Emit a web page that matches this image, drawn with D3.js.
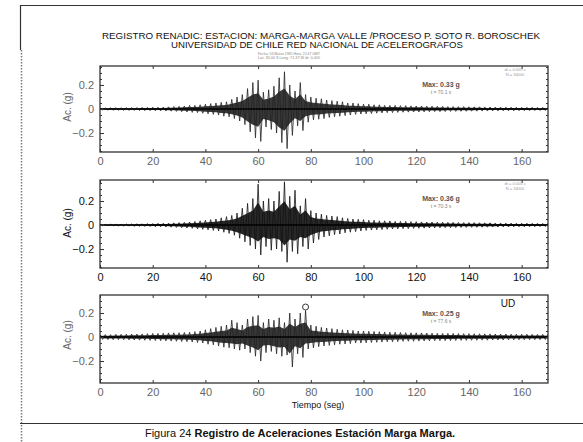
<!DOCTYPE html>
<html><head><meta charset="utf-8">
<script src="https://cdn.jsdelivr.net/npm/d3@7"></script>
<style>
body{margin:0;background:#fff}
svg{display:block}
text{font-family:"Liberation Sans",Arial,sans-serif}
</style>
</head><body>
<svg id="c" width="583" height="442"></svg>
<script>
// ---------- DATA (acceleration peaks in g, per 2-second bin starting at t=0) ----------
const binWidth = 2;
const timeBins = d3.range(0, 171, binWidth);

const nsUp = [0.008,0.008,0.01,0.01,0.01,0.012,0.012,0.012,0.014,0.014,
  0.015,0.015,0.016,0.018,0.02,0.022,0.025,0.03,0.03,0.035,
  0.04,0.045,0.05,0.055,0.06,0.08,0.1,0.12,0.17,0.22,
  0.24,0.14,0.16,0.19,0.26,0.31,0.2,0.15,0.22,0.12,
  0.1,0.09,0.085,0.075,0.07,0.065,0.06,0.05,0.05,0.045,
  0.04,0.04,0.035,0.035,0.03,0.03,0.03,0.028,0.028,0.026,
  0.025,0.025,0.024,0.024,0.022,0.022,0.02,0.02,0.02,0.02,
  0.018,0.018,0.018,0.017,0.017,0.016,0.016,0.015,0.015,0.015,
  0.014,0.014,0.014,0.013,0.013,0.012];
const nsLo = [-0.008,-0.009,-0.01,-0.01,-0.011,-0.012,-0.012,-0.013,-0.014,-0.014,
  -0.015,-0.016,-0.017,-0.018,-0.02,-0.022,-0.025,-0.028,-0.03,-0.035,
  -0.04,-0.045,-0.05,-0.06,-0.065,-0.08,-0.1,-0.13,-0.19,-0.24,
  -0.27,-0.15,-0.17,-0.2,-0.28,-0.33,-0.22,-0.14,-0.18,-0.11,
  -0.09,-0.085,-0.08,-0.07,-0.065,-0.06,-0.055,-0.05,-0.045,-0.042,
  -0.04,-0.038,-0.035,-0.033,-0.03,-0.03,-0.028,-0.027,-0.026,-0.025,
  -0.025,-0.024,-0.023,-0.022,-0.022,-0.021,-0.02,-0.02,-0.019,-0.019,
  -0.018,-0.018,-0.017,-0.017,-0.016,-0.016,-0.015,-0.015,-0.015,-0.014,
  -0.014,-0.014,-0.013,-0.013,-0.012,-0.012];

const ewUp = [0.005,0.005,0.006,0.006,0.007,0.008,0.008,0.01,0.01,0.012,
  0.012,0.014,0.015,0.016,0.018,0.02,0.022,0.025,0.03,0.035,
  0.04,0.045,0.05,0.06,0.07,0.08,0.1,0.14,0.18,0.22,
  0.34,0.2,0.22,0.2,0.28,0.36,0.24,0.29,0.16,0.22,
  0.12,0.1,0.09,0.08,0.075,0.07,0.06,0.055,0.05,0.048,
  0.045,0.04,0.04,0.035,0.035,0.034,0.03,0.03,0.03,0.028,
  0.028,0.026,0.025,0.025,0.024,0.023,0.022,0.022,0.021,0.02,
  0.02,0.02,0.019,0.018,0.018,0.017,0.017,0.016,0.016,0.015,
  0.015,0.015,0.014,0.014,0.013,0.013];
const ewLo = [-0.005,-0.006,-0.006,-0.007,-0.008,-0.008,-0.01,-0.01,-0.012,-0.012,
  -0.014,-0.015,-0.016,-0.018,-0.02,-0.022,-0.025,-0.028,-0.032,-0.036,
  -0.04,-0.045,-0.05,-0.06,-0.07,-0.085,-0.11,-0.14,-0.17,-0.2,
  -0.25,-0.18,-0.21,-0.2,-0.22,-0.31,-0.22,-0.24,-0.18,-0.2,
  -0.15,-0.12,-0.1,-0.09,-0.08,-0.075,-0.065,-0.06,-0.055,-0.05,
  -0.045,-0.042,-0.04,-0.038,-0.035,-0.033,-0.032,-0.03,-0.03,-0.028,
  -0.027,-0.026,-0.025,-0.024,-0.023,-0.022,-0.022,-0.021,-0.02,-0.02,
  -0.019,-0.019,-0.018,-0.018,-0.017,-0.017,-0.016,-0.016,-0.015,-0.015,
  -0.015,-0.014,-0.014,-0.013,-0.013,-0.012];

const udUp = [0.02,0.02,0.02,0.022,0.022,0.024,0.025,0.025,0.026,0.028,
  0.03,0.03,0.032,0.034,0.035,0.036,0.038,0.04,0.045,0.05,
  0.06,0.07,0.08,0.09,0.1,0.14,0.12,0.1,0.15,0.17,
  0.18,0.12,0.15,0.14,0.16,0.12,0.2,0.15,0.2,0.22,
  0.1,0.09,0.08,0.075,0.07,0.065,0.06,0.058,0.055,0.05,
  0.05,0.048,0.046,0.044,0.042,0.04,0.04,0.038,0.036,0.035,
  0.035,0.034,0.033,0.032,0.031,0.03,0.03,0.03,0.029,0.028,
  0.028,0.027,0.027,0.026,0.026,0.025,0.025,0.025,0.024,0.024,
  0.023,0.023,0.022,0.022,0.022,0.021];
const udLo = [-0.02,-0.021,-0.022,-0.022,-0.023,-0.024,-0.025,-0.026,-0.027,-0.028,
  -0.03,-0.031,-0.032,-0.034,-0.035,-0.037,-0.039,-0.042,-0.046,-0.05,
  -0.06,-0.065,-0.075,-0.085,-0.09,-0.1,-0.11,-0.1,-0.13,-0.16,
  -0.2,-0.13,-0.12,-0.14,-0.16,-0.15,-0.25,-0.14,-0.17,-0.1,
  -0.09,-0.08,-0.075,-0.07,-0.065,-0.06,-0.058,-0.055,-0.05,-0.05,
  -0.048,-0.046,-0.044,-0.042,-0.04,-0.04,-0.038,-0.036,-0.035,-0.035,
  -0.034,-0.033,-0.032,-0.031,-0.03,-0.03,-0.03,-0.029,-0.028,-0.028,
  -0.027,-0.027,-0.026,-0.026,-0.025,-0.025,-0.025,-0.024,-0.024,-0.023,
  -0.023,-0.022,-0.022,-0.022,-0.021,-0.021];

const xTicks = [0,20,40,60,80,100,120,140,160];
const yTicks = [-0.2,0,0.2];
const yMinorTicks = [-0.35,-0.3,-0.25,-0.2,-0.15,-0.1,-0.05,0,0.05,0.1,0.15,0.2,0.25,0.3,0.35];
const componentLabels = ["", "", "UD"];
const maxLabels = ["Max: 0.33 g", "Max: 0.36 g", "Max: 0.25 g"];
const timeLabels = ["t = 70.1 s", "t = 70.3 s", "t = 77.6 s"];

const title1 = "REGISTRO RENADIC: ESTACION: MARGA-MARGA VALLE /PROCESO P. SOTO R. BOROSCHEK";
const title2 = "UNIVERSIDAD DE CHILE RED NACIONAL DE ACELEROGRAFOS";
const title3a = "Fecha: 03 Marzo 1985  Hora: 22:47 GMT";
const title3b = "Lat: 33.04 S  Long: 71.37 W  dt: 0.005";
const xTitle = "Tiempo (seg)";
const yTitle = "Ac. (g)";
const captionA = "Figura 24 ";
const captionB = "Registro de Aceleraciones Estación Marga Marga.";

// ---------- DRAW ----------
const svg = d3.select("#c");
const W = 583, H = 442;

// document frame
svg.append("line").attr("x1",20).attr("x2",W).attr("y1",5.5).attr("y2",5.5).attr("stroke","#333").attr("stroke-width",1.2);
svg.append("line").attr("x1",20.5).attr("x2",20.5).attr("y1",5).attr("y2",50).attr("stroke","#333").attr("stroke-width",1.2);
svg.append("line").attr("x1",21.5).attr("x2",21.5).attr("y1",50).attr("y2",H).attr("stroke","#777").attr("stroke-width",1.5).attr("stroke-dasharray","1.5,1.5");
svg.append("line").attr("x1",20).attr("x2",W).attr("y1",423.5).attr("y2",423.5).attr("stroke","#333").attr("stroke-width",1);

// titles
svg.append("text").attr("x",321).attr("y",38.5).attr("text-anchor","middle").attr("font-size",8.2)
  .attr("textLength",438).attr("lengthAdjust","spacingAndGlyphs").attr("fill","#111").text(title1);
svg.append("text").attr("x",317).attr("y",48).attr("text-anchor","middle").attr("font-size",8.2)
  .attr("textLength",292).attr("lengthAdjust","spacingAndGlyphs").attr("fill","#111").text(title2);
svg.append("text").attr("x",289).attr("y",54.5).attr("text-anchor","middle").attr("font-size",3.6)
  .attr("textLength",62).attr("lengthAdjust","spacingAndGlyphs").attr("fill","#888").text(title3a);
svg.append("text").attr("x",289).attr("y",59).attr("text-anchor","middle").attr("font-size",3.6)
  .attr("textLength",62).attr("lengthAdjust","spacingAndGlyphs").attr("fill","#888").text(title3b);

const x = d3.scaleLinear().domain([0,170]).range([100,548]);

const panels = [
  {up: nsUp, lo: nsLo, top: 66, bottom: 152, domain: [-0.358, 0.358], ink: "#222", lab: "#666"},
  {up: ewUp, lo: ewLo, top: 180, bottom: 268, domain: [-0.358, 0.375], ink: "#111", lab: "#111"},
  {up: udUp, lo: udLo, top: 295, bottom: 383, domain: [-0.383, 0.35], ink: "#222", lab: "#666"}
];

panels.forEach((p, k) => {
  const y = d3.scaleLinear().domain(p.domain).range([p.bottom, p.top]);
  const g = svg.append("g");
  const clipId = "clip" + k;
  svg.append("clipPath").attr("id", clipId).append("rect")
    .attr("x", x(0)).attr("y", p.top).attr("width", x(170) - x(0)).attr("height", p.bottom - p.top);

  const env = timeBins.map((t, i) => ({t, up: p.up[i], lo: p.lo[i]}));
  // envelope band
  const area = d3.area().x(d => x(d.t)).y0(d => y(d.lo * 0.55)).y1(d => y(d.up * 0.55));
  g.append("path").attr("clip-path", `url(#${clipId})`).attr("d", area(env))
    .attr("fill", p.ink).attr("opacity", 0.9);
  // trace: alternate positive and negative peaks inside each bin
  const pts = [];
  env.forEach(d => {
    pts.push([d.t, d.up]);
    pts.push([d.t + binWidth / 2, d.lo]);
  });
  const line = d3.line().x(d => x(d[0])).y(d => y(d[1]));
  g.append("path").attr("clip-path", `url(#${clipId})`).attr("d", line(pts))
    .attr("fill", "none").attr("stroke", p.ink).attr("stroke-width", 0.8);
  // zero line
  g.append("line").attr("x1", x(0)).attr("x2", x(170)).attr("y1", y(0)).attr("y2", y(0))
    .attr("stroke", "#000").attr("stroke-width", 1.3);

  // frame
  g.append("rect").attr("x", x(0)).attr("y", p.top).attr("width", x(170) - x(0)).attr("height", p.bottom - p.top)
    .attr("fill", "none").attr("stroke", "#222").attr("stroke-width", 1.2);

  // axes
  const bottomAx = g.append("g").attr("transform", `translate(0,${p.bottom})`)
    .call(d3.axisBottom(x).tickValues(xTicks).tickSizeInner(-3).tickSizeOuter(0).tickPadding(5));
  const topAx = g.append("g").attr("transform", `translate(0,${p.top})`)
    .call(d3.axisTop(x).tickValues(xTicks).tickSizeInner(-3).tickSizeOuter(0).tickFormat(""));
  const minor = yMinorTicks.filter(v => v > p.domain[0] && v < p.domain[1]);
  const leftMinor = g.append("g").attr("transform", `translate(${x(0)},0)`)
    .call(d3.axisLeft(y).tickValues(minor).tickSizeInner(-2).tickSizeOuter(0).tickFormat(""));
  const leftAx = g.append("g").attr("transform", `translate(${x(0)},0)`)
    .call(d3.axisLeft(y).tickValues(yTicks).tickSizeInner(-4).tickSizeOuter(0).tickPadding(6).tickFormat(d3.format("")));
  const rightMinor = g.append("g").attr("transform", `translate(${x(170)},0)`)
    .call(d3.axisRight(y).tickValues(minor).tickSizeInner(-2).tickSizeOuter(0).tickFormat(""));
  [bottomAx, topAx, leftMinor, leftAx, rightMinor].forEach(a => {
    a.select(".domain").remove();
    a.selectAll("line").attr("stroke", "#333");
    a.selectAll("text").attr("font-family", '"Liberation Sans",Arial,sans-serif').attr("font-size", 11).attr("fill", p.lab);
  });

  // y title
  svg.append("text").attr("transform", `translate(71,${y(0) - 2}) rotate(-90)`).attr("text-anchor", "middle")
    .attr("font-size", 10).attr("fill", p.lab).text(yTitle);

  // annotations
  svg.append("text").attr("x", 441).attr("y", p.top + 21).attr("text-anchor", "middle").attr("font-size", 7)
    .attr("font-weight", "bold").attr("fill", "#555").text(maxLabels[k]);
  svg.append("text").attr("x", 441).attr("y", p.top + 28).attr("text-anchor", "middle").attr("font-size", 5)
    .attr("fill", "#888").text(timeLabels[k]);
  if (componentLabels[k]) {
    svg.append("text").attr("x", 508).attr("y", p.top + 12).attr("text-anchor", "middle").attr("font-size", 10)
      .attr("fill", "#111").text(componentLabels[k]);
  } else {
    svg.append("text").attr("x", 515).attr("y", p.top + 5).attr("text-anchor", "middle").attr("font-size", 4)
      .attr("fill", "#999").text("dt = 0.005 s");
    svg.append("text").attr("x", 515).attr("y", p.top + 9.5).attr("text-anchor", "middle").attr("font-size", 4)
      .attr("fill", "#999").text("N = 34000");
  }
  if (k === 2) {
    const iMax = d3.maxIndex(p.up);
    svg.append("circle").attr("cx", x(timeBins[iMax])).attr("cy", y(p.up[iMax] + 0.03)).attr("r", 3)
      .attr("fill", "none").attr("stroke", "#333").attr("stroke-width", 1);
  }
});

// x title
svg.append("text").attr("x", 318).attr("y", 408).attr("text-anchor", "middle").attr("font-size", 9).attr("fill", "#111").text(xTitle);

// caption
const cap = svg.append("text").attr("x", 300).attr("y", 437).attr("text-anchor", "middle").attr("font-size", 11).attr("fill", "#111");
cap.append("tspan").text(captionA);
cap.append("tspan").attr("font-weight", "bold").text(captionB);
</script>
</body></html>
